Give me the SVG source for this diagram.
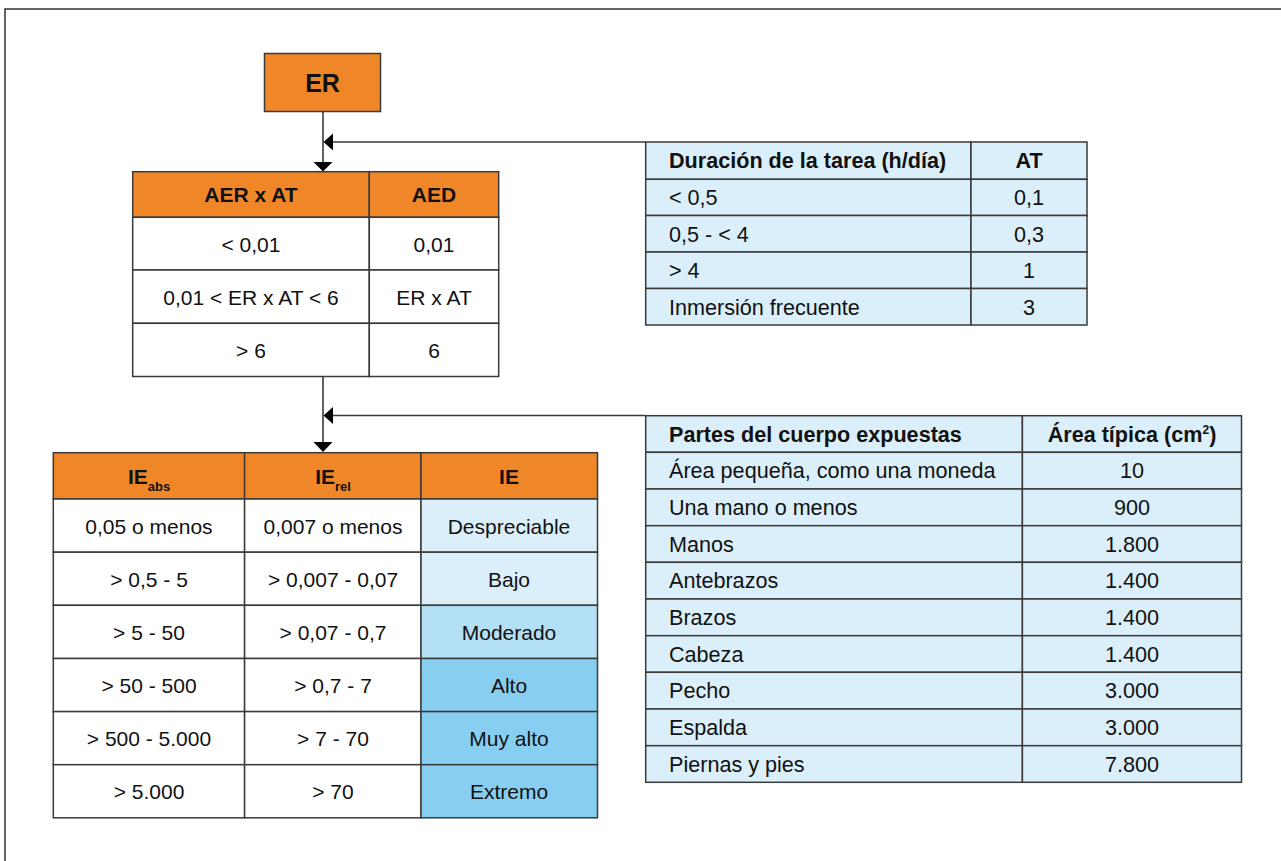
<svg xmlns="http://www.w3.org/2000/svg" width="1281" height="861" viewBox="0 0 1281 861">
<style>
.cell{stroke:#3a3a3a;stroke-width:1.5}
.or{fill:#ef8729}
.wh{fill:#ffffff}
.lb{fill:#dbeffa}
.mb{fill:#b4e0f6}
.sb{fill:#88cef1}
text{font-family:"Liberation Sans",Arial,Helvetica,sans-serif;fill:#111;font-size:21px}
.r text{font-size:21.6px}
.b{font-weight:bold}
.c{text-anchor:middle}
.con{stroke:#3a3a3a;stroke-width:1.6;fill:none}
.ah{fill:#000}
</style>
<rect x="5" y="9" width="1300" height="900" fill="#ffffff" stroke="#333" stroke-width="1.5"/>

<g id="connectors">
  <line class="con" x1="323" y1="112" x2="323" y2="162"/>
  <polygon class="ah" points="313.5,162 332.5,162 323,171.5"/>
  <line class="con" x1="645" y1="142" x2="333" y2="142"/>
  <polygon class="ah" points="333,133.5 333,150.5 323.5,142"/>
  <line class="con" x1="323" y1="376.5" x2="323" y2="442"/>
  <polygon class="ah" points="313.5,442 332.5,442 323,452"/>
  <line class="con" x1="645" y1="415.5" x2="333" y2="415.5"/>
  <polygon class="ah" points="333,407 333,424 323.5,415.5"/>
</g>

<g id="node-er">
  <rect class="cell or" x="264.5" y="53.5" width="116" height="58"/>
  <text class="b c" x="322.5" y="92" style="font-size:25px">ER</text>
</g>

<g id="node-aed-table">
  <rect class="cell or" x="132.7" y="171.7" width="236.6" height="45.6"/>
  <rect class="cell or" x="369.3" y="171.7" width="129.4" height="45.6"/>
  <rect class="cell wh" x="132.7" y="217.3" width="236.6" height="52.7"/>
  <rect class="cell wh" x="369.3" y="217.3" width="129.4" height="52.7"/>
  <rect class="cell wh" x="132.7" y="270" width="236.6" height="53.3"/>
  <rect class="cell wh" x="369.3" y="270" width="129.4" height="53.3"/>
  <rect class="cell wh" x="132.7" y="323.3" width="236.6" height="53.2"/>
  <rect class="cell wh" x="369.3" y="323.3" width="129.4" height="53.2"/>
  <text class="b c" x="251" y="202">AER x AT</text>
  <text class="b c" x="434" y="202">AED</text>
  <text class="c" x="251" y="251.5">&lt; 0,01</text>
  <text class="c" x="434" y="251.5">0,01</text>
  <text class="c" x="251" y="304.5">0,01 &lt; ER x AT &lt; 6</text>
  <text class="c" x="434" y="304.5">ER x AT</text>
  <text class="c" x="251" y="357.5">&gt; 6</text>
  <text class="c" x="434" y="357.5">6</text>
</g>

<g id="node-duracion-table" class="r">
  <rect class="cell lb" x="645.7" y="142" width="325.3" height="37.3"/>
  <rect class="cell lb" x="971" y="142" width="116" height="37.3"/>
  <rect class="cell lb" x="645.7" y="179.3" width="325.3" height="36.2"/>
  <rect class="cell lb" x="971" y="179.3" width="116" height="36.2"/>
  <rect class="cell lb" x="645.7" y="215.5" width="325.3" height="36.5"/>
  <rect class="cell lb" x="971" y="215.5" width="116" height="36.5"/>
  <rect class="cell lb" x="645.7" y="252" width="325.3" height="36.5"/>
  <rect class="cell lb" x="971" y="252" width="116" height="36.5"/>
  <rect class="cell lb" x="645.7" y="288.5" width="325.3" height="36.5"/>
  <rect class="cell lb" x="971" y="288.5" width="116" height="36.5"/>
  <text class="b" x="669" y="168">Duración de la tarea (h/día)</text>
  <text class="b c" x="1029" y="168">AT</text>
  <text x="669" y="205">&lt; 0,5</text>
  <text class="c" x="1029" y="205">0,1</text>
  <text x="669" y="241.5">0,5 - &lt; 4</text>
  <text class="c" x="1029" y="241.5">0,3</text>
  <text x="669" y="278">&gt; 4</text>
  <text class="c" x="1029" y="278">1</text>
  <text x="669" y="314.5">Inmersión frecuente</text>
  <text class="c" x="1029" y="314.5">3</text>
</g>

<g id="node-ie-table">
  <rect class="cell or" x="53.3" y="452.7" width="191.3" height="46.3"/>
  <rect class="cell or" x="244.6" y="452.7" width="176.4" height="46.3"/>
  <rect class="cell or" x="421" y="452.7" width="176.5" height="46.3"/>
  <rect class="cell wh" x="53.3" y="499" width="191.3" height="53.2"/>
  <rect class="cell wh" x="244.6" y="499" width="176.4" height="53.2"/>
  <rect class="cell lb" x="421" y="499" width="176.5" height="53.2"/>
  <rect class="cell wh" x="53.3" y="552.2" width="191.3" height="53.1"/>
  <rect class="cell wh" x="244.6" y="552.2" width="176.4" height="53.1"/>
  <rect class="cell lb" x="421" y="552.2" width="176.5" height="53.1"/>
  <rect class="cell wh" x="53.3" y="605.3" width="191.3" height="53.2"/>
  <rect class="cell wh" x="244.6" y="605.3" width="176.4" height="53.2"/>
  <rect class="cell mb" x="421" y="605.3" width="176.5" height="53.2"/>
  <rect class="cell wh" x="53.3" y="658.5" width="191.3" height="53.1"/>
  <rect class="cell wh" x="244.6" y="658.5" width="176.4" height="53.1"/>
  <rect class="cell sb" x="421" y="658.5" width="176.5" height="53.1"/>
  <rect class="cell wh" x="53.3" y="711.6" width="191.3" height="53.1"/>
  <rect class="cell wh" x="244.6" y="711.6" width="176.4" height="53.1"/>
  <rect class="cell sb" x="421" y="711.6" width="176.5" height="53.1"/>
  <rect class="cell wh" x="53.3" y="764.7" width="191.3" height="53.1"/>
  <rect class="cell wh" x="244.6" y="764.7" width="176.4" height="53.1"/>
  <rect class="cell sb" x="421" y="764.7" width="176.5" height="53.1"/>
  <text class="b c" x="149" y="484">IE<tspan dy="7" style="font-size:13px">abs</tspan></text>
  <text class="b c" x="333" y="484">IE<tspan dy="7" style="font-size:13px">rel</tspan></text>
  <text class="b c" x="509" y="484">IE</text>
  <text class="c" x="149" y="533.5">0,05 o menos</text>
  <text class="c" x="333" y="533.5">0,007 o menos</text>
  <text class="c" x="509" y="533.5">Despreciable</text>
  <text class="c" x="149" y="586.5">&gt; 0,5 - 5</text>
  <text class="c" x="333" y="586.5">&gt; 0,007 - 0,07</text>
  <text class="c" x="509" y="586.5">Bajo</text>
  <text class="c" x="149" y="640">&gt; 5 - 50</text>
  <text class="c" x="333" y="640">&gt; 0,07 - 0,7</text>
  <text class="c" x="509" y="640">Moderado</text>
  <text class="c" x="149" y="693">&gt; 50 - 500</text>
  <text class="c" x="333" y="693">&gt; 0,7 - 7</text>
  <text class="c" x="509" y="693">Alto</text>
  <text class="c" x="149" y="746">&gt; 500 - 5.000</text>
  <text class="c" x="333" y="746">&gt; 7 - 70</text>
  <text class="c" x="509" y="746">Muy alto</text>
  <text class="c" x="149" y="799">&gt; 5.000</text>
  <text class="c" x="333" y="799">&gt; 70</text>
  <text class="c" x="509" y="799">Extremo</text>
</g>

<g id="node-partes-table" class="r">
  <rect class="cell lb" x="645.7" y="415.7" width="376.7" height="36.6"/>
  <rect class="cell lb" x="1022.4" y="415.7" width="219.1" height="36.6"/>
  <rect class="cell lb" x="645.7" y="452.3" width="376.7" height="36.7"/>
  <rect class="cell lb" x="1022.4" y="452.3" width="219.1" height="36.7"/>
  <rect class="cell lb" x="645.7" y="489" width="376.7" height="36.7"/>
  <rect class="cell lb" x="1022.4" y="489" width="219.1" height="36.7"/>
  <rect class="cell lb" x="645.7" y="525.7" width="376.7" height="36.6"/>
  <rect class="cell lb" x="1022.4" y="525.7" width="219.1" height="36.6"/>
  <rect class="cell lb" x="645.7" y="562.3" width="376.7" height="36.7"/>
  <rect class="cell lb" x="1022.4" y="562.3" width="219.1" height="36.7"/>
  <rect class="cell lb" x="645.7" y="599" width="376.7" height="36.7"/>
  <rect class="cell lb" x="1022.4" y="599" width="219.1" height="36.7"/>
  <rect class="cell lb" x="645.7" y="635.7" width="376.7" height="36.6"/>
  <rect class="cell lb" x="1022.4" y="635.7" width="219.1" height="36.6"/>
  <rect class="cell lb" x="645.7" y="672.3" width="376.7" height="36.7"/>
  <rect class="cell lb" x="1022.4" y="672.3" width="219.1" height="36.7"/>
  <rect class="cell lb" x="645.7" y="709" width="376.7" height="36.7"/>
  <rect class="cell lb" x="1022.4" y="709" width="219.1" height="36.7"/>
  <rect class="cell lb" x="645.7" y="745.7" width="376.7" height="36.6"/>
  <rect class="cell lb" x="1022.4" y="745.7" width="219.1" height="36.6"/>
  <text class="b" x="669" y="441.5">Partes del cuerpo expuestas</text>
  <text class="b c" x="1132" y="441.5">Área típica (cm<tspan dy="-8" style="font-size:12px">2</tspan><tspan dy="8">)</tspan></text>
  <text x="669" y="478">Área pequeña, como una moneda</text>
  <text class="c" x="1132" y="478">10</text>
  <text x="669" y="515">Una mano o menos</text>
  <text class="c" x="1132" y="515">900</text>
  <text x="669" y="551.5">Manos</text>
  <text class="c" x="1132" y="551.5">1.800</text>
  <text x="669" y="588">Antebrazos</text>
  <text class="c" x="1132" y="588">1.400</text>
  <text x="669" y="625">Brazos</text>
  <text class="c" x="1132" y="625">1.400</text>
  <text x="669" y="661.5">Cabeza</text>
  <text class="c" x="1132" y="661.5">1.400</text>
  <text x="669" y="698">Pecho</text>
  <text class="c" x="1132" y="698">3.000</text>
  <text x="669" y="735">Espalda</text>
  <text class="c" x="1132" y="735">3.000</text>
  <text x="669" y="771.5">Piernas y pies</text>
  <text class="c" x="1132" y="771.5">7.800</text>
</g>
</svg>
